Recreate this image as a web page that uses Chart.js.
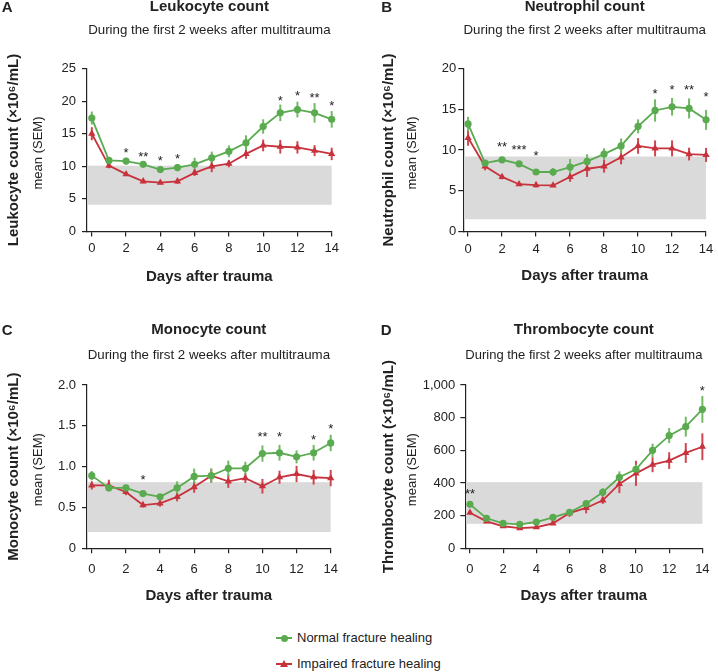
<!DOCTYPE html>
<html>
<head>
<meta charset="utf-8">
<script src="https://cdn.jsdelivr.net/npm/chart.js@4.4.1/dist/chart.umd.min.js"></script>
<style>
html,body{margin:0;padding:0;background:#fff;}
body{width:718px;height:672px;position:relative;overflow:hidden;font-family:"Liberation Sans",Arial,sans-serif;color:#222;}
canvas{position:absolute;}
.lg-line{position:absolute;height:2px;width:16px;left:276px;}
.lg-txt{position:absolute;left:297px;font-size:13px;line-height:16px;white-space:nowrap;}
.lg-circ{position:absolute;width:7px;height:7px;border-radius:50%;left:280.5px;}
.lg-tri{position:absolute;width:0;height:0;border-left:4px solid transparent;border-right:4px solid transparent;border-bottom:7px solid #c8323c;left:280px;}
</style>
</head>
<body>
<canvas id="cA"></canvas>
<canvas id="cB"></canvas>
<canvas id="cC"></canvas>
<canvas id="cD"></canvas>
<div id="legend">
  <div class="lg-line" style="top:637px;background:#5aaa50"></div>
  <div class="lg-circ" style="top:634.5px;background:#5aaa50"></div>
  <div class="lg-txt" style="top:630px">Normal fracture healing</div>
  <div class="lg-line" style="top:662.5px;background:#c8323c"></div>
  <div class="lg-tri" style="top:659.5px"></div>
  <div class="lg-txt" style="top:655.5px">Impaired fracture healing</div>
</div>
<script>
// ---------------- DATA ----------------
const days = [0,1,2,3,4,5,6,7,8,9,10,11,12,13,14];
const xTicks = [0,2,4,6,8,10,12,14];
const subtitleText = 'During the first 2 weeks after multitrauma';
const xAxisTitle = 'Days after trauma';
const seriesNames = ['Normal fracture healing','Impaired fracture healing'];

// A – Leukocytes
const leukNormal      = [17.4,10.9,10.8,10.3,9.5,9.8,10.3,11.3,12.3,13.6,16.1,18.2,18.7,18.2,17.2];
const leukNormalSem   = [1.0,0.3,0.5,0.4,0.3,0.55,1.0,0.95,0.9,1.15,1.1,1.27,1.2,1.5,1.27];
const leukImpaired    = [15.0,10.1,8.8,7.7,7.5,7.7,9.0,10.0,10.4,11.9,13.2,13.0,12.9,12.4,11.9];
const leukImpairedSem = [1.0,0.4,0.3,0.3,0.3,0.4,0.5,0.9,0.55,0.75,0.9,1.05,0.95,0.85,0.95];
const leukRange = [4.1,10.1];
const leukYTicks = [0,5,10,15,20,25];
const leukSigDays = [2,3,4,5,11,12,13,14];
const leukSigMarks = ['*','**','*','*','*','*','**','*'];
const leukSigY = [12.6,12.0,11.3,11.6,20.6,21.3,21.0,19.8];

// B – Neutrophils
const neutNormal      = [13.2,8.4,8.8,8.3,7.3,7.3,7.9,8.6,9.5,10.5,12.9,14.85,15.3,15.1,13.7];
const neutNormalSem   = [0.86,0.3,0.3,0.3,0.3,0.5,1.0,0.88,0.72,0.92,0.86,1.37,1.08,1.23,1.23];
const neutImpaired    = [11.5,8.0,6.7,5.8,5.7,5.65,6.7,7.7,8.0,9.1,10.5,10.2,10.2,9.5,9.4];
const neutImpairedSem = [0.98,0.5,0.3,0.2,0.3,0.2,0.6,1.0,0.78,0.86,0.96,0.98,0.98,0.78,0.86];
const neutRange = [1.5,9.2];
const neutYTicks = [0,5,10,15,20];
const neutSigDays = [2,3,4,11,12,13,14];
const neutSigMarks = ['**','***','*','*','*','**','*'];
const neutSigY = [10.8,10.4,9.75,17.3,17.75,17.75,16.9];

// C – Monocytes
const monoNormal      = [0.89,0.74,0.74,0.67,0.63,0.74,0.88,0.89,0.98,0.98,1.16,1.17,1.12,1.17,1.29];
const monoNormalSem   = [0.057,0.04,0.03,0.03,0.03,0.08,0.096,0.09,0.094,0.08,0.1,0.096,0.08,0.096,0.1];
const monoImpaired    = [0.77,0.77,0.69,0.53,0.55,0.63,0.75,0.89,0.82,0.86,0.76,0.87,0.91,0.87,0.86];
const monoImpairedSem = [0.05,0.07,0.04,0.03,0.04,0.055,0.07,0.08,0.08,0.06,0.09,0.08,0.1,0.09,0.1];
const monoRange = [0.2,0.81];
const monoYTicks = [0,0.5,1.0,1.5,2.0];
const monoSigDays = [3,10,11,13,14];
const monoSigMarks = ['*','**','*','*','*'];
const monoSigY = [0.877,1.40,1.41,1.375,1.50];

// D – Thrombocytes
const thromNormal      = [269,184,153,147,161,190,220,273,343,435,484,600,690,745,851];
const thromNormalSem   = [10,8,6,6,6,8,10,22,26,36,28,41,46,61,82];
const thromImpaired    = [218,165,135,124,129,153,216,247,294,394,459,512,537,584,622];
const thromImpairedSem = [10,8,8,8,8,10,23,33,22,56,77,46,51,61,82];
const thromRange = [150,405];
const thromYTicks = [0,200,400,600,800,1000];
const thromSigDays = [0,14];
const thromSigMarks = ['**','*'];
const thromSigY = [357,983];

// ---------------- STYLE ----------------
const INK = '#222222';
const GREEN = '#5aaa50', GREEN_ERR = '#6fba62';
const RED = '#c8323c', RED_ERR = '#d0464f';
const BAND = '#dadada';
Chart.defaults.font.family = '"Liberation Sans", Arial, sans-serif';
Chart.defaults.color = INK;

const panelData = {};

const extrasPlugin = {
  id: 'extras',
  beforeDatasetsDraw(chart) {
    const P = panelData[chart.canvas.id];
    const {ctx, chartArea: ca, scales: {x, y}} = chart;
    ctx.save();
    ctx.fillStyle = BAND;
    const yt = y.getPixelForValue(P.range[1]), yb = y.getPixelForValue(P.range[0]);
    const xl = ca.left + 0.7, xr = x.getPixelForValue(14);
    ctx.fillRect(xl, yt, xr - xl, yb - yt);
    const errs = [[P.impaired, P.impairedSem, RED_ERR], [P.normal, P.normalSem, GREEN_ERR]];
    ctx.lineWidth = 2;
    errs.forEach(([m, s, c]) => {
      ctx.strokeStyle = c;
      m.forEach((v, i) => {
        const px = x.getPixelForValue(days[i]);
        ctx.beginPath();
        ctx.moveTo(px, y.getPixelForValue(v - s[i]));
        ctx.lineTo(px, y.getPixelForValue(v + s[i]));
        ctx.stroke();
      });
    });
    ctx.restore();
  },
  afterDraw(chart) {
    const P = panelData[chart.canvas.id];
    const G = P.G;
    const {ctx, chartArea: ca, scales: {x, y}} = chart;
    ctx.save();
    ctx.fillStyle = INK;
    ctx.font = '13px "Liberation Sans", Arial, sans-serif';
    ctx.textAlign = 'center';
    ctx.textBaseline = 'alphabetic';
    P.sigDays.forEach((d, i) => {
      ctx.fillText(P.sigMarks[i], x.getPixelForValue(d), y.getPixelForValue(P.sigY[i]) + 7.5);
    });
    ctx.font = 'bold 15px "Liberation Sans", Arial, sans-serif';
    ctx.textAlign = 'left';
    ctx.fillText(P.letter, G.letterX - G.cx, G.letterY - G.cy);
    ctx.font = '13px "Liberation Sans", Arial, sans-serif';
    ctx.textAlign = 'center';
    ctx.textBaseline = 'middle';
    ctx.translate(G.meanX - G.cx, (ca.top + ca.bottom) / 2 + 3);
    ctx.rotate(-Math.PI / 2);
    ctx.fillText('mean (SEM)', 0, 0);
    ctx.restore();
  }
};

function mkPanel(id, G, P) {
  P.G = G;
  panelData[id] = P;
  const cv = document.getElementById(id);
  cv.style.left = G.cx + 'px';
  cv.style.top = G.cy + 'px';
  cv.width = G.cw; cv.height = G.ch;
  cv.style.width = G.cw + 'px'; cv.style.height = G.ch + 'px';
  const subSize = 13.3, subLH = subSize * 1.2;
  const tTop = G.titleY - G.cy - 9;
  const tEnd = G.titleY - G.cy + 9;
  const sTop = G.subY - G.cy - subLH / 2 - tEnd;
  const sBot = (G.top - G.cy) - (G.subY - G.cy + subLH / 2);
  const xBottomPad = G.cy + G.ch - G.xTitleY - 9;
  const xTickPad = G.xLabelY - G.bottom - 12.8;
  new Chart(cv, {
    type: 'line',
    data: {
      datasets: [
        { label: seriesNames[0], data: days.map((d, i) => ({x: d, y: P.normal[i]})),
          borderColor: GREEN, backgroundColor: GREEN, pointStyle: 'circle',
          pointRadius: 3.6, pointHoverRadius: 3.6, pointBorderWidth: 0, borderWidth: 1.8, clip: false },
        { label: seriesNames[1], data: days.map((d, i) => ({x: d, y: P.impaired[i]})),
          borderColor: RED, backgroundColor: RED, pointStyle: 'triangle',
          pointRadius: 4.2, pointHoverRadius: 4.2, pointBorderWidth: 0, borderWidth: 1.8, clip: false }
      ]
    },
    options: {
      responsive: false, animation: false, devicePixelRatio: 1, locale: 'en-US',
      events: [],
      layout: { padding: { left: 0, top: 0, bottom: 0, right: G.cx + G.cw - G.right } },
      plugins: {
        legend: { display: false },
        tooltip: { enabled: false },
        title: { display: true, text: P.title, fullSize: false, color: INK,
                 font: { size: 15, weight: 'bold' }, padding: { top: tTop, bottom: 0 } },
        subtitle: { display: true, text: subtitleText, fullSize: false, color: INK,
                    font: { size: subSize, weight: 'normal' }, padding: { top: sTop, bottom: sBot } }
      },
      scales: {
        x: {
          type: 'linear', min: -0.28, max: 14,
          afterBuildTicks: s => { s.ticks = xTicks.map(v => ({value: v})); },
          afterFit: s => { s.height = G.cy + G.ch - G.bottom; },
          grid: { drawOnChartArea: false, drawTicks: true, tickLength: 5, color: INK, lineWidth: 1.2 },
          border: { color: INK, width: 1.2 },
          ticks: { padding: xTickPad, font: { size: 13 }, color: INK, maxRotation: 0, autoSkip: false },
          title: { display: true, text: xAxisTitle, color: INK, font: { size: 15, weight: 'bold' },
                   padding: { top: 0, bottom: xBottomPad } }
        },
        y: {
          min: 0, max: P.yTicks[P.yTicks.length - 1],
          afterBuildTicks: s => { s.ticks = P.yTicks.map(v => ({value: v})); },
          afterFit: s => { s.width = G.left - G.cx; },
          grid: { drawOnChartArea: false, drawTicks: true, tickLength: 5, color: INK, lineWidth: 1.2 },
          border: { color: INK, width: 1.2 },
          ticks: { padding: G.yTickPad, font: { size: 13 }, color: INK, callback: P.fmt },
          title: { display: true, text: P.yTitle, color: INK, font: { size: 15, weight: 'bold' },
                   padding: { top: G.yTitleX - G.cx - 9, bottom: 0 } }
        }
      }
    },
    plugins: [extrasPlugin]
  });
}

const fmtInt = v => String(v);
const fmtOne = v => (v === 0 ? '0' : v.toFixed(1));
const fmtThousands = v => v.toLocaleString('en-US');

mkPanel('cA',
  {cx:0, cy:-4, cw:359, ch:304, left:87, right:331.7, top:68.5, bottom:231.5,
   titleY:7, subY:30.3, xLabelY:248.3, xTitleY:276.5, yTitleX:14.3, meanX:38.1,
   letterX:1.7, letterY:11.7, yTickPad:6},
  {title:'Leukocyte count', yTitle:'Leukocyte count (×10⁶/mL)', letter:'A',
   normal:leukNormal, normalSem:leukNormalSem, impaired:leukImpaired, impairedSem:leukImpairedSem,
   range:leukRange, yTicks:leukYTicks, sigDays:leukSigDays, sigMarks:leukSigMarks, sigY:leukSigY, fmt:fmtInt});

mkPanel('cB',
  {cx:359, cy:-4, cw:359, ch:304, left:463.3, right:707, top:68.5, bottom:231.5,
   titleY:7, subY:30.3, xLabelY:249, xTitleY:276, yTitleX:388.8, meanX:412.8,
   letterX:381.3, letterY:11.7, yTickPad:2},
  {title:'Neutrophil count', yTitle:'Neutrophil count (×10⁶/mL)', letter:'B',
   normal:neutNormal, normalSem:neutNormalSem, impaired:neutImpaired, impairedSem:neutImpairedSem,
   range:neutRange, yTicks:neutYTicks, sigDays:neutSigDays, sigMarks:neutSigMarks, sigY:neutSigY, fmt:fmtInt});

mkPanel('cC',
  {cx:0, cy:296, cw:359, ch:318, left:87, right:330.7, top:385, bottom:548.3,
   titleY:330, subY:355, xLabelY:569.5, xTitleY:596, yTitleX:14.3, meanX:38.1,
   letterX:1.7, letterY:335, yTickPad:6},
  {title:'Monocyte count', yTitle:'Monocyte count (×10⁶/mL)', letter:'C',
   normal:monoNormal, normalSem:monoNormalSem, impaired:monoImpaired, impairedSem:monoImpairedSem,
   range:monoRange, yTicks:monoYTicks, sigDays:monoSigDays, sigMarks:monoSigMarks, sigY:monoSigY, fmt:fmtOne});

mkPanel('cD',
  {cx:359, cy:296, cw:359, ch:318, left:465.3, right:710.3, top:385, bottom:548.3,
   titleY:330, subY:355, xLabelY:569.5, xTitleY:596, yTitleX:388.8, meanX:412.8,
   letterX:380.7, letterY:335, yTickPad:5},
  {title:'Thrombocyte count', yTitle:'Thrombocyte count (×10⁶/mL)', letter:'D',
   normal:thromNormal, normalSem:thromNormalSem, impaired:thromImpaired, impairedSem:thromImpairedSem,
   range:thromRange, yTicks:thromYTicks, sigDays:thromSigDays, sigMarks:thromSigMarks, sigY:thromSigY, fmt:fmtThousands});
</script>
</body>
</html>
